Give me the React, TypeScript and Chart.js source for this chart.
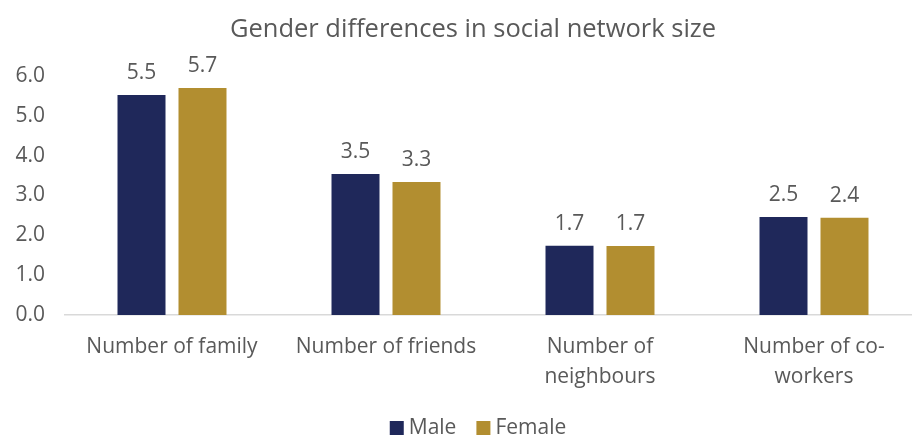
import React, { useEffect, useRef } from "react";
import { Chart, registerables } from "chart.js";

Chart.register(...registerables);

const categories: (string | string[])[] = [
  "Number of family",
  "Number of friends",
  ["Number of", "neighbours"],
  ["Number of co-", "workers"],
];
const maleValues = [5.52, 3.54, 1.74, 2.46];
const femaleValues = [5.7, 3.34, 1.73, 2.44];
const yTicks = [0, 1, 2, 3, 4, 5, 6];
const titleText = "Gender differences in social network size";

const FONT = "'Open Sans', Lato, sans-serif";
const GRAY = "#595959";

const valueLabels = {
  id: "valueLabels",
  afterDatasetsDraw(chart: any) {
    const ctx = chart.ctx;
    ctx.save();
    ctx.font = `21px ${FONT}`;
    ctx.fillStyle = GRAY;
    ctx.textAlign = "center";
    ctx.textBaseline = "middle";
    chart.data.datasets.forEach((ds: any, i: number) => {
      const meta = chart.getDatasetMeta(i);
      meta.data.forEach((bar: any, j: number) => {
        ctx.fillText(Number(ds.data[j]).toFixed(1), bar.x, bar.y - 22);
      });
    });
    ctx.restore();
  },
};

const titleAndLegend = {
  id: "titleAndLegend",
  afterDraw(chart: any) {
    const ctx = chart.ctx;
    ctx.save();
    ctx.font = `25.5px ${FONT}`;
    ctx.fillStyle = GRAY;
    ctx.textAlign = "center";
    ctx.textBaseline = "middle";
    ctx.fillText(titleText, 473, 30);

    ctx.font = `21px ${FONT}`;
    ctx.textAlign = "left";
    const items = chart.data.datasets.map((ds: any) => ({
      label: ds.label,
      color: ds.backgroundColor,
      w: 14 + 5 + ctx.measureText(ds.label).width,
    }));
    const gap = 20;
    const total = items.reduce((s: number, it: any) => s + it.w, 0) + gap * (items.length - 1);
    let x = 478 - total / 2;
    const cy = 428;
    items.forEach((it: any) => {
      ctx.fillStyle = it.color;
      ctx.fillRect(x, cy - 7, 14, 14);
      ctx.fillStyle = GRAY;
      ctx.fillText(it.label, x + 19, cy);
      x += it.w + gap;
    });
    ctx.restore();
  },
};

export default function App() {
  const ref = useRef<HTMLCanvasElement>(null);
  useEffect(() => {
    if (!ref.current) return;
    const chart = new Chart(ref.current, {
      type: "bar",
      data: {
        labels: categories,
        datasets: [
          {
            label: "Male",
            data: maleValues,
            backgroundColor: "#1F285A",
            barPercentage: 0.787,
            categoryPercentage: 0.57,
          },
          {
            label: "Female",
            data: femaleValues,
            backgroundColor: "#B28E30",
            barPercentage: 0.787,
            categoryPercentage: 0.57,
          },
        ],
      },
      options: {
        animation: false,
        responsive: false,
        maintainAspectRatio: false,
        layout: { padding: { top: 76, right: 9, bottom: 0, left: 0 } },
        plugins: {
          title: { display: false },
          legend: { display: false },
          tooltip: { enabled: false },
        },
        scales: {
          x: {
            afterFit: (scale: any) => {
              scale.height = 125;
            },
            grid: { display: false, drawTicks: false },
            border: { display: true, color: "#D9D9D9", width: 1.5 },
            ticks: {
              color: GRAY,
              font: { family: FONT, size: 21, lineHeight: 1.43 },
              padding: 17,
              maxRotation: 0,
              autoSkip: false,
            },
          },
          y: {
            min: 0,
            max: 6,
            afterBuildTicks: (scale: any) => {
              scale.ticks = yTicks.map((v) => ({ value: v }));
            },
            afterFit: (scale: any) => {
              scale.width = 65;
            },
            grid: { display: false, drawTicks: false },
            border: { display: false },
            ticks: {
              color: GRAY,
              font: { family: FONT, size: 21 },
              padding: 20,
              callback: (v: any) => Number(v).toFixed(1),
            },
          },
        },
      },
      plugins: [valueLabels, titleAndLegend],
    });
    return () => chart.destroy();
  }, []);
  return (
    <div style={{ position: "fixed", left: 0, top: 0, width: 912, height: 440, overflow: "hidden", background: "#fff" }}>
      <canvas ref={ref} width={930} height={440} style={{ display: "block" }} />
    </div>
  );
}
